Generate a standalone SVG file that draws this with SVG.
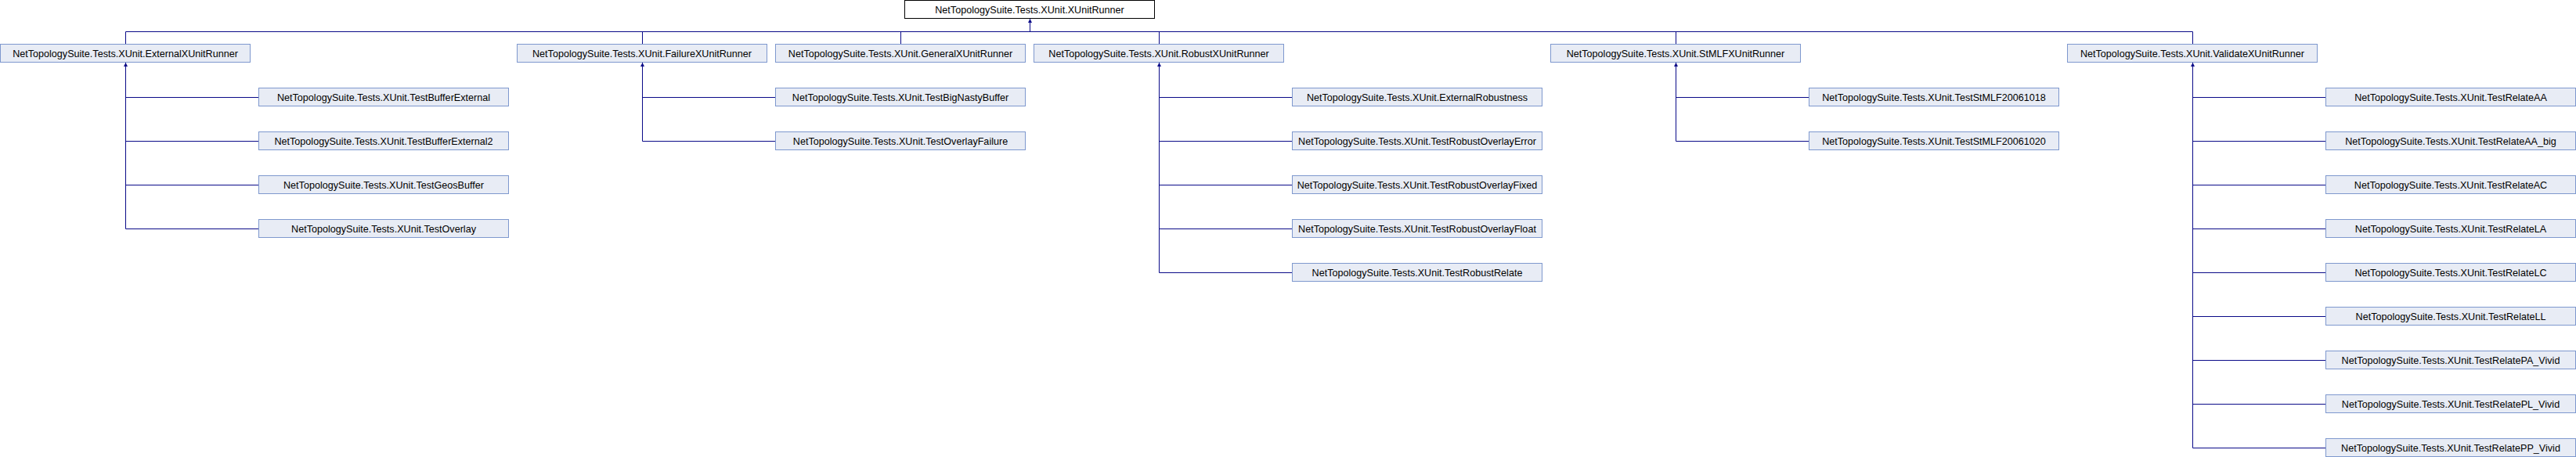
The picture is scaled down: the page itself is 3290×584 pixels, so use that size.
<svg xmlns="http://www.w3.org/2000/svg" width="3290" height="584" viewBox="0 0 3290 584">
<style>
.n rect{fill:#E8ECF5;stroke:#7E98CE;stroke-width:1}
.r rect{fill:#FFFFFF;stroke:#000000;stroke-width:1}
text{font-family:"Liberation Sans",Arial,sans-serif;font-size:12.6px;fill:#000000;text-anchor:middle}
.e{fill:none;stroke:#0A0A88;stroke-width:1}
</style>
<defs>
<marker id="arr" viewBox="0 0 10 10" refX="10" refY="5" markerWidth="6" markerHeight="5" markerUnits="userSpaceOnUse" orient="auto"><path d="M0,0 L10,5 L0,10 z" fill="#0A0A88"/></marker>
</defs>
<rect width="3290" height="584" fill="#FFFFFF"/>
<g id="connectors">
<path class="e" d="M160.5,56.5 V40.5 H1315.5 V24" marker-end="url(#arr)"/>
<path class="e" d="M820.5,56.5 V40.5 H1315.5"/>
<path class="e" d="M1150.5,56.5 V40.5 H1315.5"/>
<path class="e" d="M1480.5,56.5 V40.5 H1315.5"/>
<path class="e" d="M2140.5,56.5 V40.5 H1315.5"/>
<path class="e" d="M2800.5,56.5 V40.5 H1315.5"/>
<path class="e" d="M330.5,124.5 H160.5 V80" marker-end="url(#arr)"/>
<path class="e" d="M330.5,180.5 H160.5 V80"/>
<path class="e" d="M330.5,236.5 H160.5 V80"/>
<path class="e" d="M330.5,292.5 H160.5 V80"/>
<path class="e" d="M990.5,124.5 H820.5 V80" marker-end="url(#arr)"/>
<path class="e" d="M990.5,180.5 H820.5 V80"/>
<path class="e" d="M1650.5,124.5 H1480.5 V80" marker-end="url(#arr)"/>
<path class="e" d="M1650.5,180.5 H1480.5 V80"/>
<path class="e" d="M1650.5,236.5 H1480.5 V80"/>
<path class="e" d="M1650.5,292.5 H1480.5 V80"/>
<path class="e" d="M1650.5,348.5 H1480.5 V80"/>
<path class="e" d="M2310.5,124.5 H2140.5 V80" marker-end="url(#arr)"/>
<path class="e" d="M2310.5,180.5 H2140.5 V80"/>
<path class="e" d="M2970.5,124.5 H2800.5 V80" marker-end="url(#arr)"/>
<path class="e" d="M2970.5,180.5 H2800.5 V80"/>
<path class="e" d="M2970.5,236.5 H2800.5 V80"/>
<path class="e" d="M2970.5,292.5 H2800.5 V80"/>
<path class="e" d="M2970.5,348.5 H2800.5 V80"/>
<path class="e" d="M2970.5,404.5 H2800.5 V80"/>
<path class="e" d="M2970.5,460.5 H2800.5 V80"/>
<path class="e" d="M2970.5,516.5 H2800.5 V80"/>
<path class="e" d="M2970.5,572.5 H2800.5 V80"/>
</g>
<g id="root" class="r"><rect x="1155.5" y="0.5" width="319" height="23"/><text x="1315" y="16.8">NetTopologySuite.Tests.XUnit.XUnitRunner</text></g>
<g id="external" class="n"><rect x="0.5" y="56.5" width="319" height="23"/><text x="160" y="72.8">NetTopologySuite.Tests.XUnit.ExternalXUnitRunner</text></g>
<g id="failure" class="n"><rect x="660.5" y="56.5" width="319" height="23"/><text x="820" y="72.8">NetTopologySuite.Tests.XUnit.FailureXUnitRunner</text></g>
<g id="general" class="n"><rect x="990.5" y="56.5" width="319" height="23"/><text x="1150" y="72.8">NetTopologySuite.Tests.XUnit.GeneralXUnitRunner</text></g>
<g id="robust" class="n"><rect x="1320.5" y="56.5" width="319" height="23"/><text x="1480" y="72.8">NetTopologySuite.Tests.XUnit.RobustXUnitRunner</text></g>
<g id="stmlf" class="n"><rect x="1980.5" y="56.5" width="319" height="23"/><text x="2140" y="72.8">NetTopologySuite.Tests.XUnit.StMLFXUnitRunner</text></g>
<g id="validate" class="n"><rect x="2640.5" y="56.5" width="319" height="23"/><text x="2800" y="72.8">NetTopologySuite.Tests.XUnit.ValidateXUnitRunner</text></g>
<g id="testbufferexternal" class="n"><rect x="330.5" y="112.5" width="319" height="23"/><text x="490" y="128.8">NetTopologySuite.Tests.XUnit.TestBufferExternal</text></g>
<g id="testbufferexternal2" class="n"><rect x="330.5" y="168.5" width="319" height="23"/><text x="490" y="184.8">NetTopologySuite.Tests.XUnit.TestBufferExternal2</text></g>
<g id="testgeosbuffer" class="n"><rect x="330.5" y="224.5" width="319" height="23"/><text x="490" y="240.8">NetTopologySuite.Tests.XUnit.TestGeosBuffer</text></g>
<g id="testoverlay" class="n"><rect x="330.5" y="280.5" width="319" height="23"/><text x="490" y="296.8">NetTopologySuite.Tests.XUnit.TestOverlay</text></g>
<g id="testbignastybuffer" class="n"><rect x="990.5" y="112.5" width="319" height="23"/><text x="1150" y="128.8">NetTopologySuite.Tests.XUnit.TestBigNastyBuffer</text></g>
<g id="testoverlayfailure" class="n"><rect x="990.5" y="168.5" width="319" height="23"/><text x="1150" y="184.8">NetTopologySuite.Tests.XUnit.TestOverlayFailure</text></g>
<g id="externalrobustness" class="n"><rect x="1650.5" y="112.5" width="319" height="23"/><text x="1810" y="128.8">NetTopologySuite.Tests.XUnit.ExternalRobustness</text></g>
<g id="testrobustoverlayerror" class="n"><rect x="1650.5" y="168.5" width="319" height="23"/><text x="1810" y="184.8">NetTopologySuite.Tests.XUnit.TestRobustOverlayError</text></g>
<g id="testrobustoverlayfixed" class="n"><rect x="1650.5" y="224.5" width="319" height="23"/><text x="1810" y="240.8">NetTopologySuite.Tests.XUnit.TestRobustOverlayFixed</text></g>
<g id="testrobustoverlayfloat" class="n"><rect x="1650.5" y="280.5" width="319" height="23"/><text x="1810" y="296.8">NetTopologySuite.Tests.XUnit.TestRobustOverlayFloat</text></g>
<g id="testrobustrelate" class="n"><rect x="1650.5" y="336.5" width="319" height="23"/><text x="1810" y="352.8">NetTopologySuite.Tests.XUnit.TestRobustRelate</text></g>
<g id="teststmlf20061018" class="n"><rect x="2310.5" y="112.5" width="319" height="23"/><text x="2470" y="128.8">NetTopologySuite.Tests.XUnit.TestStMLF20061018</text></g>
<g id="teststmlf20061020" class="n"><rect x="2310.5" y="168.5" width="319" height="23"/><text x="2470" y="184.8">NetTopologySuite.Tests.XUnit.TestStMLF20061020</text></g>
<g id="testrelateaa" class="n"><rect x="2970.5" y="112.5" width="319" height="23"/><text x="3130" y="128.8">NetTopologySuite.Tests.XUnit.TestRelateAA</text></g>
<g id="testrelateaa_big" class="n"><rect x="2970.5" y="168.5" width="319" height="23"/><text x="3130" y="184.8">NetTopologySuite.Tests.XUnit.TestRelateAA_big</text></g>
<g id="testrelateac" class="n"><rect x="2970.5" y="224.5" width="319" height="23"/><text x="3130" y="240.8">NetTopologySuite.Tests.XUnit.TestRelateAC</text></g>
<g id="testrelatela" class="n"><rect x="2970.5" y="280.5" width="319" height="23"/><text x="3130" y="296.8">NetTopologySuite.Tests.XUnit.TestRelateLA</text></g>
<g id="testrelatelc" class="n"><rect x="2970.5" y="336.5" width="319" height="23"/><text x="3130" y="352.8">NetTopologySuite.Tests.XUnit.TestRelateLC</text></g>
<g id="testrelatell" class="n"><rect x="2970.5" y="392.5" width="319" height="23"/><text x="3130" y="408.8">NetTopologySuite.Tests.XUnit.TestRelateLL</text></g>
<g id="testrelatepa_vivid" class="n"><rect x="2970.5" y="448.5" width="319" height="23"/><text x="3130" y="464.8">NetTopologySuite.Tests.XUnit.TestRelatePA_Vivid</text></g>
<g id="testrelatepl_vivid" class="n"><rect x="2970.5" y="504.5" width="319" height="23"/><text x="3130" y="520.8">NetTopologySuite.Tests.XUnit.TestRelatePL_Vivid</text></g>
<g id="testrelatepp_vivid" class="n"><rect x="2970.5" y="560.5" width="319" height="23"/><text x="3130" y="576.8">NetTopologySuite.Tests.XUnit.TestRelatePP_Vivid</text></g>
</svg>
